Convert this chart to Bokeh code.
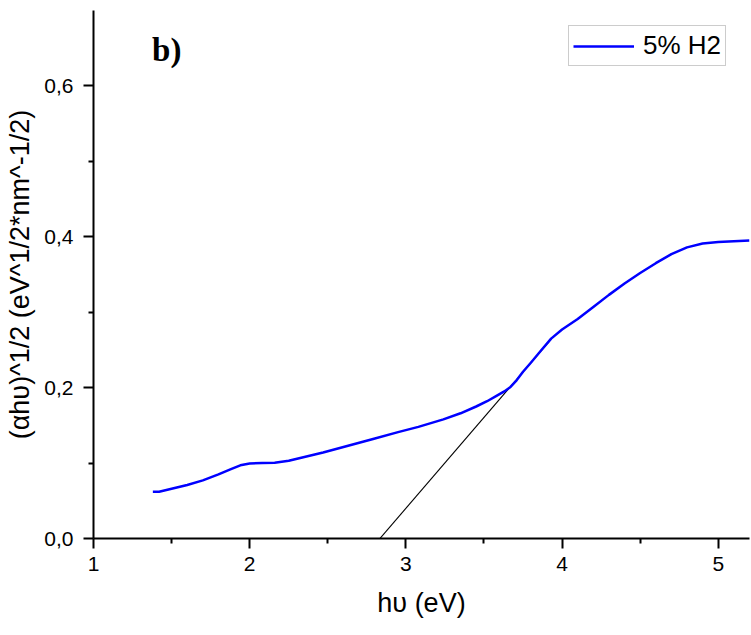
from bokeh.plotting import figure
from bokeh.models import (Range1d, FixedTicker, CustomJSTickFormatter, Legend,
                          LegendItem, Label)
from bokeh.embed import file_html
from bokeh.resources import INLINE

# Tauc plot data: photon energy (eV) and (alpha*h*nu)^1/2
energy = [1.38, 1.42, 1.50, 1.60, 1.70, 1.80, 1.88, 1.94, 2.00, 2.08, 2.16,
          2.25, 2.35, 2.47, 2.63, 2.79, 2.95, 3.08, 3.24, 3.35, 3.45, 3.52,
          3.58, 3.63, 3.67, 3.71, 3.75, 3.80, 3.86, 3.93, 4.00, 4.10, 4.20,
          4.30, 4.40, 4.50, 4.60, 4.70, 4.80, 4.90, 5.00, 5.10, 5.20]
tauc = [0.062, 0.062, 0.066, 0.071, 0.077, 0.085, 0.092, 0.097, 0.0995, 0.100,
        0.1005, 0.103, 0.108, 0.114, 0.123, 0.132, 0.141, 0.148, 0.158, 0.166,
        0.175, 0.182, 0.189, 0.195, 0.201, 0.210, 0.221, 0.233, 0.248, 0.265,
        0.277, 0.291, 0.307, 0.323, 0.338, 0.352, 0.365, 0.377, 0.386, 0.391,
        0.393, 0.394, 0.395]

# linear fit of the absorption edge (band gap at the x-intercept)
gap_ev = 2.834
edge_slope = 0.241
fit_x = [2.77, 3.93]
fit_y = [edge_slope * (x - gap_ev) for x in fit_x]

x_ticks = [1, 2, 3, 4, 5]
x_minor = [1.5, 2.5, 3.5, 4.5]
y_ticks = [0.0, 0.2, 0.4, 0.6]
y_minor = [0.1, 0.3, 0.5]

FONT = "Liberation Sans"

p = figure(width=751, height=635, output_backend="svg", toolbar_location=None,
           x_range=Range1d(1, 5.2), y_range=Range1d(0, 0.7),
           min_border_left=93, min_border_right=2, min_border_top=10,
           min_border_bottom=97)
p.outline_line_color = None
p.xgrid.visible = False
p.ygrid.visible = False
p.background_fill_color = "white"
p.border_fill_color = "white"

p.line(fit_x, fit_y, line_color="black", line_width=1.1)
curve = p.line(energy, tauc, line_color="#0000ff", line_width=2.5,
               line_join="round")

for ax in (p.xaxis[0], p.yaxis[0]):
    ax.axis_line_width = 2
    ax.axis_line_color = "black"
    ax.major_tick_line_width = 2
    ax.minor_tick_line_width = 2
    ax.major_tick_out = 10
    ax.major_tick_in = 0
    ax.minor_tick_out = 5
    ax.minor_tick_in = 0
    ax.major_label_text_font = FONT
    ax.major_label_text_font_size = "21px"
    ax.major_label_text_color = "black"
    ax.axis_label_text_font = FONT
    ax.axis_label_text_font_size = "27px"
    ax.axis_label_text_font_style = "normal"
    ax.axis_label_text_color = "black"

p.xaxis.ticker = FixedTicker(ticks=x_ticks, minor_ticks=x_minor)
p.yaxis.ticker = FixedTicker(ticks=y_ticks, minor_ticks=y_minor)
p.yaxis.formatter = CustomJSTickFormatter(code="return tick.toFixed(1).replace('.', ',')")
p.xaxis.formatter = CustomJSTickFormatter(code="return tick.toFixed(0)")

p.xaxis.axis_label = "hυ (eV)"
p.yaxis.axis_label = "(αhυ)^1/2 (eV^1/2*nm^-1/2)"
p.xaxis.major_label_standoff = 8
p.xaxis.axis_label_standoff = 14
p.yaxis.major_label_standoff = 10
p.yaxis.axis_label_standoff = 6

legend = Legend(items=[LegendItem(label="5% H2", renderers=[curve])],
                location=(475, 472), margin=0, padding=4, spacing=0,
                glyph_width=61, glyph_height=26, label_standoff=9,
                label_text_font=FONT, label_text_font_size="26px",
                label_text_color="black", border_line_color="#999999",
                border_line_width=1, background_fill_alpha=1)
p.add_layout(legend)

p.add_layout(Label(x=1.375, y=0.648, text="b)", text_font="Liberation Serif",
                   text_font_style="bold", text_font_size="33px",
                   text_color="black", text_baseline="alphabetic"))

open("out.html", "w").write(file_html(p, INLINE))
